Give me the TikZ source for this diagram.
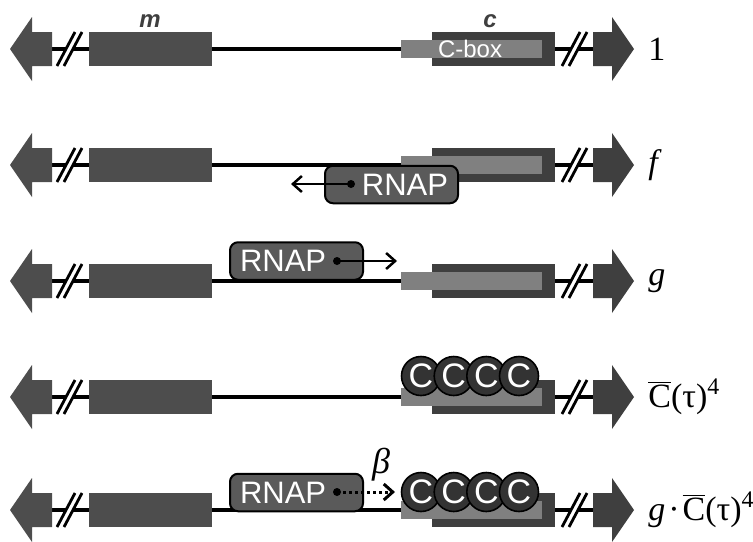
\documentclass[tikz,border=0pt]{standalone}
\usepackage{fontspec}
\setmainfont{Liberation Serif}
\setsansfont{Liberation Sans}
\usetikzlibrary{arrows.meta}

\definecolor{mgray}{HTML}{4D4D4D}
\definecolor{cdark}{HTML}{3F3F3F}
\definecolor{cboxgray}{HTML}{808080}
\definecolor{rnapgray}{HTML}{5A5A5A}
\definecolor{cprotgray}{HTML}{333333}

\tikzset{
	rnap/.style={draw=black, line width=1pt, fill=rnapgray, rounded corners=4pt,
		text width=56.5pt, inner xsep=5pt, inner ysep=0pt, minimum height=18.75pt,
		text=white, font=\sffamily\fontsize{15.5}{17}\selectfont},
	cprot/.style={circle, draw=black, line width=0.8pt, fill=cprotgray,
		minimum size=19.5pt, inner sep=0pt, text=white,
		font=\sffamily\fontsize{17}{17}\selectfont},
	state/.style={anchor=west, inner sep=0pt, font=\fontsize{17}{20}\selectfont},
	genename/.style={text=cdark, font=\sffamily\bfseries\itshape\fontsize{12}{12}\selectfont},
	move/.style={line width=1.25pt, -{Straight Barb[length=4.5pt,width=8pt]}}
}

\begin{document}
\begin{tikzpicture}[x=0.5pt, y=-0.5pt]
	\useasboundingbox (0,0) rectangle (753,541);
	%genes
	\foreach \y in {49,165,281,397,510}{
		\draw[line width=2pt] (52,\y) -- (593,\y);
		\fill[mgray] (10,\y) -- (32,\y-32) -- (32,\y-17) -- (52,\y-17)
			-- (52,\y+17) -- (32,\y+17) -- (32,\y+32) -- cycle;
		\fill[cdark] (593,\y-17) -- (612,\y-17) -- (612,\y-32) -- (634,\y)
			-- (612,\y+32) -- (612,\y+17) -- (593,\y+17) -- cycle;
		%breaks
		\foreach \x in {57,562}{
			\fill[white] (\x,\y+17) -- (\x+18,\y-17) -- (\x+25,\y-17) -- (\x+7,\y+17) -- cycle;
			\draw[line width=1.4pt] (\x,\y+17) -- (\x+18,\y-17) (\x+7,\y+17) -- (\x+25,\y-17);
		}
		\fill[mgray] (89,\y-17) rectangle (212,\y+17);
		\fill[cdark] (432,\y-17) rectangle (555,\y+17);
		\fill[cboxgray] (401,\y-9) rectangle (542,\y+9);
	}
	%labels
	\node[genename] (mname) at (150,21) {m};
	\node[genename] (cname) at (490,21) {c};
	\node[text=white, font=\sffamily\fontsize{12}{12}\selectfont] (cboxname) at (470,49) {C-box};
	\node[state] (s1) at (648,49) {1};
	\node[state] (s2) at (648,165) {\textit{f}};
	\node[state] (s3) at (648,281) {\textit{g}};
	\node[state] (s4) at (648,397) {$\overline{\hbox{C}}$(τ)\textsuperscript{4}};
	\node[state] (s5) at (648,510) {\textit{g}\kern1.5pt·\kern1.5pt$\overline{\hbox{C}}$(τ)\textsuperscript{4}};
	%RNAP
	\node[rnap, align=right] (rnap2) at (391.5,184.5) {RNAP};
	\coordinate (dot2) at (351,184);
	\coordinate (end2) at (291,184);
	\fill (dot2) circle (2pt);
	\draw[move] (dot2) -- (end2);
	
	\node[rnap, align=left] (rnap3) at (296.5,261) {RNAP};
	\coordinate (dot3) at (337,261);
	\coordinate (end3) at (397,261);
	\fill (dot3) circle (2pt);
	\draw[move] (dot3) -- (end3);
	
	\node[rnap, align=left] (rnap5) at (296.5,492.5) {RNAP};
	\coordinate (dot5) at (337,492);
	\coordinate (end5) at (395,492);
	\fill (dot5) circle (2pt);
	\draw[move, line width=1.5pt, dash pattern=on 1.5pt off 1.5pt] (dot5) -- (end5);
	\node[font=\fontsize{18}{20}\selectfont] (beta) at (381,465) {\textit{β}};
	%repressors
	\foreach \i/\x in {1/421,2/453.7,3/486.3,4/519}{
		\node[cprot] (c4\i) at (\x,376) {C};
		\node[cprot] (c5\i) at (\x,492) {C};
	}
\end{tikzpicture}
\end{document}
